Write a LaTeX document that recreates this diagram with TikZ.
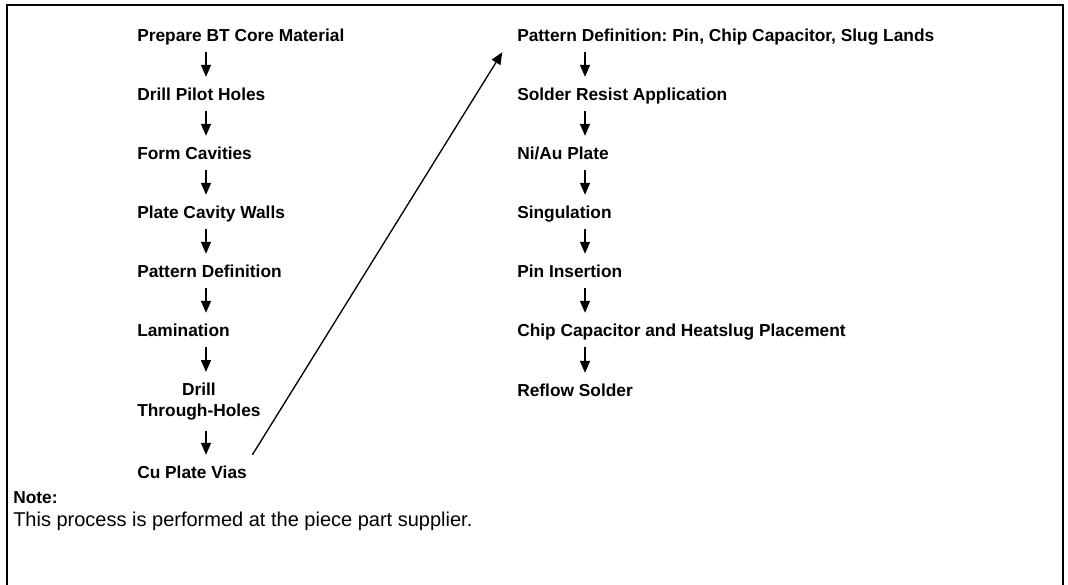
\documentclass[tikz,border=0pt]{standalone}
\usepackage{fontspec}
\setmainfont{Liberation Sans}
\usetikzlibrary{arrows.meta}
\frenchspacing

\tikzset{
    stage/.style={font=\fontsize{13}{15.75}\selectfont\bfseries, anchor=west,
        inner xsep=0pt, inner ysep=8pt, text height=9.4pt, text depth=0pt},
    stagetwo/.style={font=\fontsize{13}{15.75}\selectfont\bfseries, align=center,
        anchor=north west, inner xsep=0pt, inner ysep=8pt},
    flow/.style={-{Triangle[length=9pt,width=7.5pt]}, line width=1.2pt},
}

\begin{document}
\begin{tikzpicture}[x=0.75pt,y=-0.75pt]
        \useasboundingbox (0,0) rectangle (1068,585);
        % open frame, no bottom edge
        \draw[line width=1.5pt] (7,600) -- (7,5) -- (1063,5) -- (1063,600);

        \coordinate (lx) at (206,0); % arrow column, left
        \coordinate (rx) at (585,0); % arrow column, right

        % left column
        \node[stage] (prep)  at (137,35)  {Prepare BT Core Material};
        \node[stage] (pilot) at (137,94)  {Drill Pilot Holes};
        \node[stage] (cav)   at (137,153) {Form Cavities};
        \node[stage] (walls) at (137,212) {Plate Cavity Walls};
        \node[stage] (patt)  at (137,271) {Pattern Definition};
        \node[stage] (lam)   at (137,330) {Lamination};
        \node[stagetwo] (thru) at (137,372) {Drill\\Through-Holes};
        \node[stage] (vias)  at (137,472) {Cu Plate Vias};

        % right column
        \node[stage] (lands) at (517,35)  {Pattern Definition: Pin, Chip Capacitor, Slug Lands};
        \node[stage] (resist) at (517,94) {Solder Resist Application};
        \node[stage] (niau)  at (517,153) {Ni/Au Plate};
        \node[stage] (sing)  at (517,212) {Singulation};
        \node[stage] (pins)  at (517,271) {Pin Insertion};
        \node[stage] (place) at (517,330) {Chip Capacitor and Heatslug Placement};
        \node[stage] (reflow) at (517,390) {Reflow Solder};

        \foreach \a/\b in {prep/pilot, pilot/cav, cav/walls, walls/patt, patt/lam, lam/thru, thru/vias}
            \draw[flow] (\a.south -| lx) -- (\b.north -| lx);
        \foreach \a/\b in {lands/resist, resist/niau, niau/sing, sing/pins, pins/place, place/reflow}
            \draw[flow] (\a.south -| rx) -- (\b.north -| rx);

        % jump to the second column
        \draw[flow, line width=1pt] ([xshift=4pt]vias.north east) -- ([xshift=-11pt]lands.south west);

        \node[stage] (note) at (13,497) {Note:};
        \node[stage, font=\fontsize{15}{18}\selectfont, text height=10.7pt] (notetext) at (13,519) {This process is performed at the piece part supplier.};
\end{tikzpicture}
\end{document}
